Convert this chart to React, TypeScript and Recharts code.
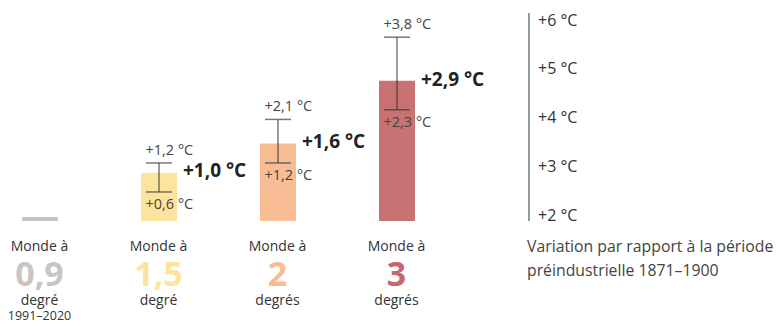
import { ComposedChart, Bar, Line, Cell, XAxis, YAxis, ErrorBar, LabelList, Rectangle } from 'recharts';

const FONT = '"Open Sans", "Noto Sans", sans-serif';

const categories = ['0,9', '1,5', '2', '3'];
const unitWords = ['degré', 'degré', 'degrés', 'degrés'];
const periodNotes = ['1991–2020', '', '', ''];
const warming = [0, 1.0, 1.6, 2.9];
const rangeLow: (number | null)[] = [null, 0.6, 1.2, 2.3];
const rangeHigh: (number | null)[] = [null, 1.2, 2.1, 3.8];
const axisTicks = [2, 3, 4, 5, 6];

const barColors = ['#c9c3c1', '#fde49e', '#f9bd95', '#c87274'];
const numberColors = ['#cac5c3', '#fde39b', '#f9bb8f', '#c6686d'];

const data = categories.map((cat, i) => ({
  cat,
  value: warming[i],
  low: rangeLow[i],
  high: rangeHigh[i],
  err:
    rangeLow[i] == null || rangeHigh[i] == null
      ? null
      : [warming[i] - (rangeLow[i] as number), (rangeHigh[i] as number) - warming[i]],
}));

const fmt = (v: number) => `+${v.toFixed(1).replace('.', ',')} °C`;

// x-axis: "Monde à / big number / degré(s) / period"
function CatTick(props: any) {
  const { x, y, payload } = props;
  const i = payload.index;
  return (
    <g fontFamily={FONT}>
      <text x={x} y={y + 28} textAnchor="middle" fontSize={14} fill="#333">
        Monde à
      </text>
      <text x={x} y={y + 63} textAnchor="middle" fontSize={34} fontWeight={700} fill={numberColors[i]}>
        {categories[i]}
      </text>
      <text x={x} y={y + 82} textAnchor="middle" fontSize={14} fill="#333">
        {unitWords[i]}
      </text>
      {periodNotes[i] && (
        <text x={x} y={y + 97} textAnchor="middle" fontSize={12.5} fill="#333">
          {periodNotes[i]}
        </text>
      )}
    </g>
  );
}

// right axis tick: "+6 °C"
function TempTick(props: any) {
  const { x, y, payload } = props;
  return (
    <text x={x} y={y} dy="0.36em" fontFamily={FONT} fontSize={16} fill="#333">
      {`+${payload.value} °C`}
    </text>
  );
}

// zero value (reference period) still shows as a thin grey line
const BarShape = (props: any) => {
  const { x, y, width, height, fill } = props;
  const h = Math.max(height, 4);
  return <Rectangle x={x} y={y + height - h} width={width} height={h} fill={fill} />;
};

const ValueLabel = (props: any) => {
  const { x, y, width, value } = props;
  if (!value) return null;
  return (
    <text x={x + width + 6} y={y - 2} dy="0.36em" fontFamily={FONT} fontSize={19} fontWeight={700} fill="#222">
      {fmt(value)}
    </text>
  );
};

const HighLabel = (props: any) => {
  const { x, y, value } = props;
  if (value == null) return null;
  return (
    <text x={x - 13} y={y - 8} fontFamily={FONT} fontSize={14.5} fill="#444">
      {fmt(value)}
    </text>
  );
};

const LowLabel = (props: any) => {
  const { x, y, value } = props;
  if (value == null) return null;
  return (
    <text x={x - 13} y={y + 17} fontFamily={FONT} fontSize={14.5} fill="#444">
      {fmt(value)}
    </text>
  );
};

export default function App() {
  return (
    <div
      style={{
        position: 'absolute',
        left: 0,
        top: 0,
        width: 777,
        height: 323,
        overflow: 'hidden',
        background: '#fff',
        fontFamily: FONT,
      }}
    >
      <div style={{ position: 'absolute', left: -20, top: 0 }}>
        <ComposedChart width={797} height={323} data={data} margin={{ top: 13, right: 0, left: 0, bottom: 0 }}>
          <XAxis
            dataKey="cat"
            padding={{ left: 0, right: 73 }}
            tickLine={false}
            tickSize={0}
            axisLine={false}
            interval={0}
            height={102}
            tick={<CatTick />}
          />
          <YAxis yAxisId="v" hide domain={[0, 4.3]} />
          <YAxis
            yAxisId="t"
            orientation="right"
            type="number"
            width={248}
            domain={[1.88, 6.14]}
            allowDataOverflow
            ticks={axisTicks}
            interval={0}
            tickLine={false}
            tickSize={0}
            tickMargin={9}
            axisLine={{ stroke: '#9a9a9a', strokeWidth: 2 }}
            tick={<TempTick />}
          />
          <Bar dataKey="value" yAxisId="v" barSize={36} isAnimationActive={false} shape={<BarShape />}>
            {data.map((d, i) => (
              <Cell key={d.cat} fill={barColors[i]} />
            ))}
            <ErrorBar dataKey="err" width={13} stroke="#333" strokeOpacity={0.65} strokeWidth={1.5} />
            <LabelList dataKey="value" content={<ValueLabel />} />
          </Bar>
          <Line
            yAxisId="v"
            dataKey="high"
            stroke="none"
            dot={false}
            activeDot={false}
            isAnimationActive={false}
            label={<HighLabel />}
          />
          <Line
            yAxisId="v"
            dataKey="low"
            stroke="none"
            dot={false}
            activeDot={false}
            isAnimationActive={false}
            label={<LowLabel />}
          />
        </ComposedChart>
      </div>
      <div
        style={{
          position: 'absolute',
          left: 527,
          top: 234,
          fontSize: 15.8,
          lineHeight: '24px',
          color: '#444',
          whiteSpace: 'nowrap',
        }}
      >
        Variation par rapport à la période
        <br />
        préindustrielle 1871–1900
      </div>
    </div>
  );
}
